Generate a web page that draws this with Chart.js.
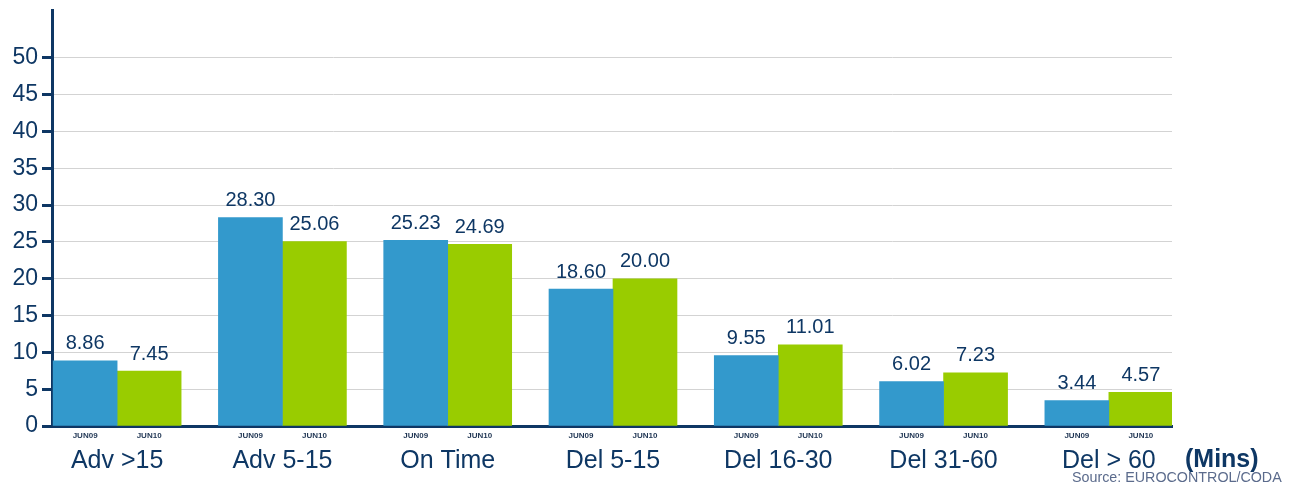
<!DOCTYPE html>
<html>
<head>
<meta charset="utf-8">
<script src="https://cdn.jsdelivr.net/npm/chart.js@4.4.0/dist/chart.umd.min.js"></script>
<style>
  html, body { margin: 0; padding: 0; background: #fff; }
  #wrap { width: 1298px; height: 485px; position: relative; }
</style>
</head>
<body>
<div id="wrap"><canvas id="chart"></canvas></div>
<script>
const categories = ['Adv >15', 'Adv 5-15', 'On Time', 'Del 5-15', 'Del 16-30', 'Del 31-60', 'Del > 60'];
const seriesNames = ['JUN09', 'JUN10'];
const jun09 = [8.86, 28.30, 25.23, 18.60, 9.55, 6.02, 3.44];
const jun10 = [7.45, 25.06, 24.69, 20.00, 11.01, 7.23, 4.57];
const yTicks = [0, 5, 10, 15, 20, 25, 30, 35, 40, 45, 50];

const navy = '#0E3764';
const fontFam = "'Liberation Sans', Arial, sans-serif";

const ctx = document.getElementById('chart').getContext('2d');

// value labels above each bar, series tags under each bar, category names below
const labelsPlugin = {
    id: 'labels',
    afterDatasetsDraw(chart) {
        const c = chart.ctx;
        const xs = chart.scales.x;
        c.save();
        c.textAlign = 'center';
        chart.data.datasets.forEach((ds, di) => {
            const meta = chart.getDatasetMeta(di);
            meta.data.forEach((bar, i) => {
                c.fillStyle = navy;
                c.font = '20px ' + fontFam;
                c.textBaseline = 'bottom';
                c.fillText(ds.data[i].y.toFixed(2), bar.x, bar.y - 7);
                c.font = 'bold 8px ' + fontFam;
                c.textBaseline = 'middle';
                c.fillStyle = '#1F3553';
                c.fillText(seriesNames[di], bar.x, 436);
            });
        });
        c.fillStyle = navy;
        c.font = '25px ' + fontFam;
        c.textBaseline = 'middle';
        categories.forEach((cat, i) => {
            c.fillText(cat, xs.getPixelForValue(i), 461);
        });
        c.font = 'bold 25px ' + fontFam;
        c.textAlign = 'left';
        c.fillText('(Mins)', 1185, 460);
        c.font = '14.3px ' + fontFam;
        c.fillStyle = '#5B6B8C';
        c.fillText('Source: EUROCONTROL/CODA', 1072, 478);
        c.restore();
    }
};

new Chart(ctx, {
    type: 'bar',
    data: {
        datasets: [
            {
                label: seriesNames[0],
                data: jun09.map((v, i) => ({ x: i, y: v })),
                backgroundColor: '#3399CC',
                barThickness: 64
            },
            {
                label: seriesNames[1],
                data: jun10.map((v, i) => ({ x: i, y: v })),
                backgroundColor: '#99CC00',
                barThickness: 64
            }
        ]
    },
    options: {
        responsive: true,
        maintainAspectRatio: false,
        animation: false,
        layout: { padding: { top: 10, right: 126, bottom: 51, left: 0 } },
        plugins: {
            legend: { display: false },
            tooltip: { enabled: false }
        },
        scales: {
            x: {
                type: 'linear',
                offset: false,
                min: -0.394,
                max: 6.382,
                ticks: { display: false },
                grid: { display: false },
                border: { color: navy, width: 3 }
            },
            y: {
                min: 0,
                max: 56.5,
                afterBuildTicks: (scale) => {
                    scale.ticks = yTicks.map(v => ({ value: v }));
                },
                afterFit: (scale) => {
                    scale.width = 52;
                    scale.paddingTop = 0;
                    scale.paddingBottom = 0;
                },
                ticks: {
                    color: navy,
                    padding: 4,
                    font: { family: fontFam, size: 23 }
                },
                grid: {
                    color: (c) => c.tick && c.tick.value === 0 ? 'rgba(0,0,0,0)' : '#D3D3D3',
                    lineWidth: 1,
                    tickColor: navy,
                    tickWidth: 3,
                    tickLength: 10
                },
                border: { color: navy, width: 3 }
            }
        }
    },
    plugins: [labelsPlugin]
});
</script>
</body>
</html>
